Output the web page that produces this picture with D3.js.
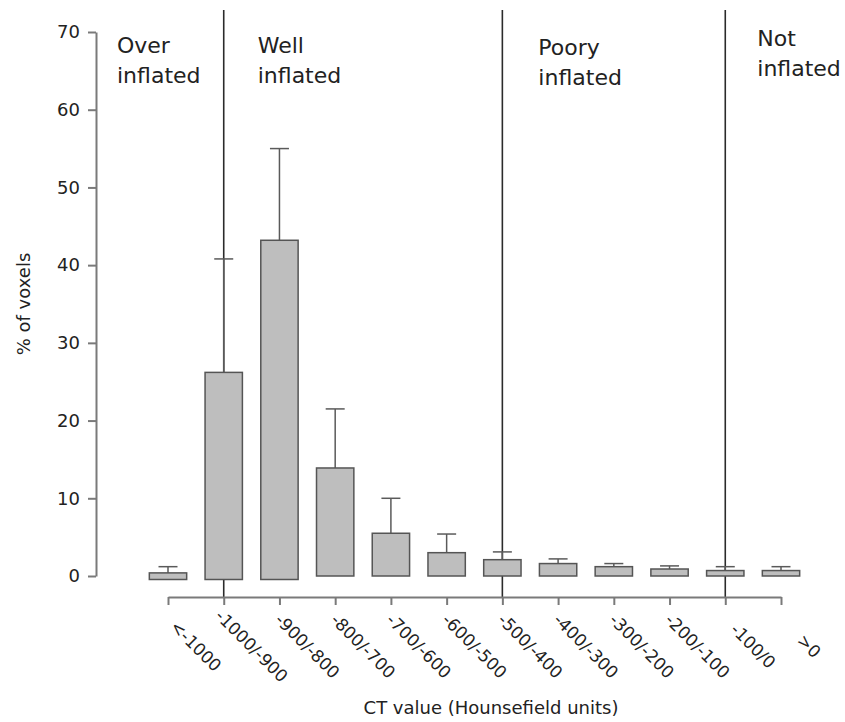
<!DOCTYPE html>
<html>
<head>
<meta charset="utf-8">
<script src="https://cdn.jsdelivr.net/npm/d3@7"></script>
<style>
  body { margin: 0; background: #fff; }
  text { font-family: "DejaVu Sans", Verdana, sans-serif; fill: #222; }
</style>
</head>
<body>
<div id="chart"></div>
<script>
// data
const categories = ["<-1000", "-1000/-900", "-900/-800", "-800/-700", "-700/-600", "-600/-500",
                    "-500/-400", "-400/-300", "-300/-200", "-200/-100", "-100/0", ">0"];
const barBase  = [-0.45, -0.45, -0.45, 0, 0, 0, 0, 0, 0, 0, 0, 0];
const barMean  = [0.4, 26.2, 43.2, 13.9, 5.5, 3.0, 2.1, 1.6, 1.2, 0.9, 0.7, 0.7];
const barUpper = [1.2, 40.8, 55.0, 21.5, 10.0, 5.4, 3.1, 2.2, 1.6, 1.3, 1.2, 1.2];
const yTicks = [0, 10, 20, 30, 40, 50, 60, 70];
const dividers = ["-1000/-900", "-500/-400", "-100/0"];
const regionLabels = [["Over", "inflated"], ["Well", "inflated"], ["Poory", "inflated"], ["Not", "inflated"]];

const W = 845, H = 722;
const svg = d3.select("#chart").append("svg")
    .attr("width", W)
    .attr("height", H);

const xScale = d3.scalePoint().domain(categories).range([168, 781]);
const yScale = d3.scaleLinear().domain([0, 70]).range([576, 32]);
const bw = xScale.step() * 0.67;
const axisY = 597;

const data = categories.map((c, i) => ({cat: c, base: barBase[i], mean: barMean[i], up: barUpper[i]}));

// divider lines behind everything
svg.append("g")
    .selectAll("line")
    .data(dividers)
    .join("line")
    .attr("x1", d => xScale(d))
    .attr("x2", d => xScale(d))
    .attr("y1", 10)
    .attr("y2", axisY)
    .attr("stroke", "#2b2b2b")
    .attr("stroke-width", 1.6);

// error bars
const err = svg.append("g").attr("stroke", "#5a5a5a").attr("stroke-width", 1.5);
err.selectAll("line.v")
    .data(data)
    .join("line")
    .attr("class", "v")
    .attr("x1", d => xScale(d.cat))
    .attr("x2", d => xScale(d.cat))
    .attr("y1", d => yScale(d.mean))
    .attr("y2", d => yScale(d.up));
err.selectAll("line.cap")
    .data(data)
    .join("line")
    .attr("class", "cap")
    .attr("x1", d => xScale(d.cat) - 9.5)
    .attr("x2", d => xScale(d.cat) + 9.5)
    .attr("y1", d => yScale(d.up))
    .attr("y2", d => yScale(d.up));

// bars
svg.append("g")
    .selectAll("rect")
    .data(data)
    .join("rect")
    .attr("x", d => xScale(d.cat) - bw / 2)
    .attr("y", d => yScale(d.mean))
    .attr("width", bw)
    .attr("height", d => yScale(d.base) - yScale(d.mean))
    .attr("fill", "#bebebe")
    .attr("stroke", "#555")
    .attr("stroke-width", 1.5);

// y axis
const yAxis = svg.append("g")
    .attr("transform", "translate(96,0)")
    .call(d3.axisLeft(yScale).tickValues(yTicks).tickSize(8).tickSizeOuter(0));
yAxis.selectAll("path, line").attr("stroke", "#7a7a7a").attr("stroke-width", 2);
yAxis.selectAll("text")
    .attr("x", -16)
    .style("font-size", "18px")
    .style("font-family", "DejaVu Sans, sans-serif")
    .attr("fill", "#222");

// x axis
const xAxis = svg.append("g")
    .attr("transform", `translate(0,${axisY})`)
    .call(d3.axisBottom(xScale).tickSize(8).tickSizeOuter(0));
xAxis.selectAll("path, line").attr("stroke", "#7a7a7a").attr("stroke-width", 2);
xAxis.selectAll("text").remove();

// rotated category labels
svg.append("g")
    .selectAll("text")
    .data(categories)
    .join("text")
    .attr("transform", d => `translate(${xScale(d) + 28},646) rotate(45)`)
    .attr("text-anchor", "middle")
    .attr("dominant-baseline", "central")
    .style("font-size", "17px")
    .text(d => d);

// axis titles
svg.append("text")
    .attr("x", 491)
    .attr("y", 714)
    .attr("text-anchor", "middle")
    .style("font-size", "18px")
    .text("CT value (Hounsefield units)");

svg.append("text")
    .attr("transform", "translate(30,304) rotate(-90)")
    .attr("text-anchor", "middle")
    .style("font-size", "18px")
    .text("% of voxels");

// region labels
const regionX = [96 + 21, xScale(dividers[0]) + 34, xScale(dividers[1]) + 36, xScale(dividers[2]) + 32];
const regionY = [53, 53, 55, 46];
regionLabels.forEach((lines, i) => {
  const t = svg.append("text")
      .attr("x", regionX[i])
      .attr("y", regionY[i])
      .style("font-size", "22px");
  lines.forEach((s, j) => {
    t.append("tspan")
      .attr("x", regionX[i])
      .attr("dy", j === 0 ? 0 : 30)
      .text(s);
  });
});
</script>
</body>
</html>
